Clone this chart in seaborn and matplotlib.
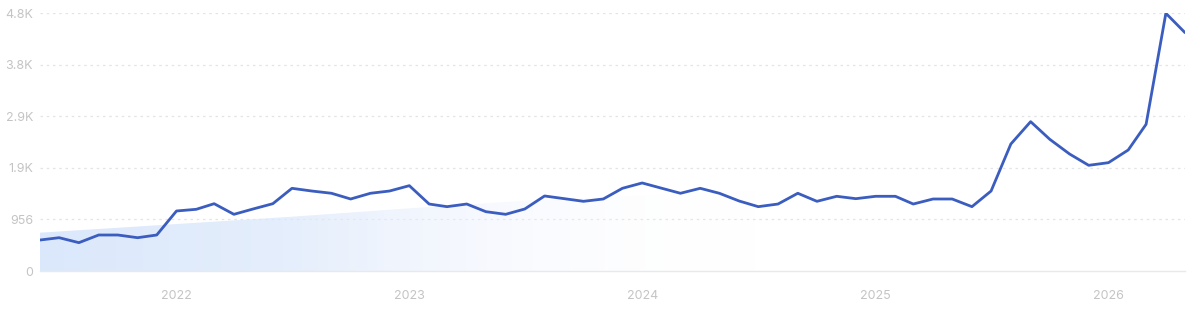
import numpy as np
import pandas as pd
import matplotlib
matplotlib.use("Agg")
import matplotlib.pyplot as plt
import matplotlib.dates as mdates
from matplotlib.colors import LinearSegmentedColormap
import seaborn as sns

# ---- data (monthly, Jun 2021 .. May 2026) ----
start_month = "2021-06-01"
values = [
    574, 617, 525, 667, 667, 617, 667,                         # 2021 Jun-Dec
    1112, 1143, 1247, 1050, 1149, 1247, 1532, 1482, 1440, 1334, 1440, 1482,   # 2022
    1581, 1241, 1192, 1241, 1099, 1050, 1149, 1390, 1340, 1291, 1334, 1532,   # 2023
    1631, 1532, 1440, 1532, 1440, 1297, 1192, 1241, 1440, 1291, 1384, 1340,   # 2024
    1384, 1384, 1241, 1334, 1334, 1192, 1482, 2353, 2767, 2440, 2168, 1958,   # 2025
    2007, 2242, 2718, 4775, 4416,                              # 2026 Jan-May
]
# faded trend band (semi-annual anchors)
trend_dates = ["2021-06-01", "2022-01-01", "2022-07-01", "2023-01-01",
               "2023-07-01", "2024-01-01", "2024-07-01"]
trend_values = [710, 870, 1006, 1162, 1303, 1400, 1480]

ytick_values = [0, 956, 1912, 2868, 3824, 4780]
ytick_labels = ["0", "956", "1.9K", "2.9K", "3.8K", "4.8K"]
xtick_years = ["2022", "2023", "2024", "2025", "2026"]

dates = pd.date_range(start_month, periods=len(values), freq="MS")
df = pd.DataFrame({"date": dates, "value": values})

sns.set_theme(style="white")
plt.rcParams["font.family"] = ["Inter", "DejaVu Sans"]

fig = plt.figure(figsize=(12, 3.1), dpi=100)
ax = fig.add_axes([40 / 1200, 39 / 310, 1145 / 1200, 258 / 310])

# gradient-filled trend band
tdates = pd.to_datetime(trend_dates)
poly = ax.fill_between(tdates, 0, trend_values, color="none", lw=0)
tx = mdates.date2num(tdates)
cmap = LinearSegmentedColormap.from_list(
    "fade", [(0.86, 0.91, 0.985, 1.0), (0.86, 0.91, 0.985, 0.75),
             (0.93, 0.95, 0.995, 0.35), (1, 1, 1, 0.0)])
grad = np.linspace(0, 1, 256).reshape(1, -1)
im = ax.imshow(grad, cmap=cmap, aspect="auto",
               extent=[tx[0], tx[-1], 0, max(trend_values)], zorder=1,
               interpolation="bicubic")
path = poly.get_paths()[0]
im.set_clip_path(path, transform=ax.transData)

sns.lineplot(data=df, x="date", y="value", ax=ax, color="#3a5dbf",
             linewidth=2.0, zorder=3)

ax.set_xlim(dates[0], dates[-1])
ax.set_ylim(0, 4780)

ax.set_yticks(ytick_values)
ax.set_yticklabels(ytick_labels)
ax.set_xticks(pd.to_datetime([y + "-01-01" for y in xtick_years]))
ax.set_xticklabels(xtick_years)
ax.tick_params(axis="both", length=0, labelsize=9, colors="#c4c4c4")
ax.tick_params(axis="y", pad=5)
ax.tick_params(axis="x", pad=14)
ax.set_xlabel("")
ax.set_ylabel("")

for v in ytick_values[1:]:
    ax.axhline(v, color="#e2e4e8", lw=0.9, ls=(0, (2, 3)), zorder=0)

for s in ["top", "right", "left"]:
    ax.spines[s].set_visible(False)
ax.spines["bottom"].set_color("#e8e9ec")
ax.spines["bottom"].set_linewidth(1.0)
ax.set_facecolor("white")
ax.patch.set_alpha(0)

fig.savefig("out.png", dpi=100, facecolor="white")
